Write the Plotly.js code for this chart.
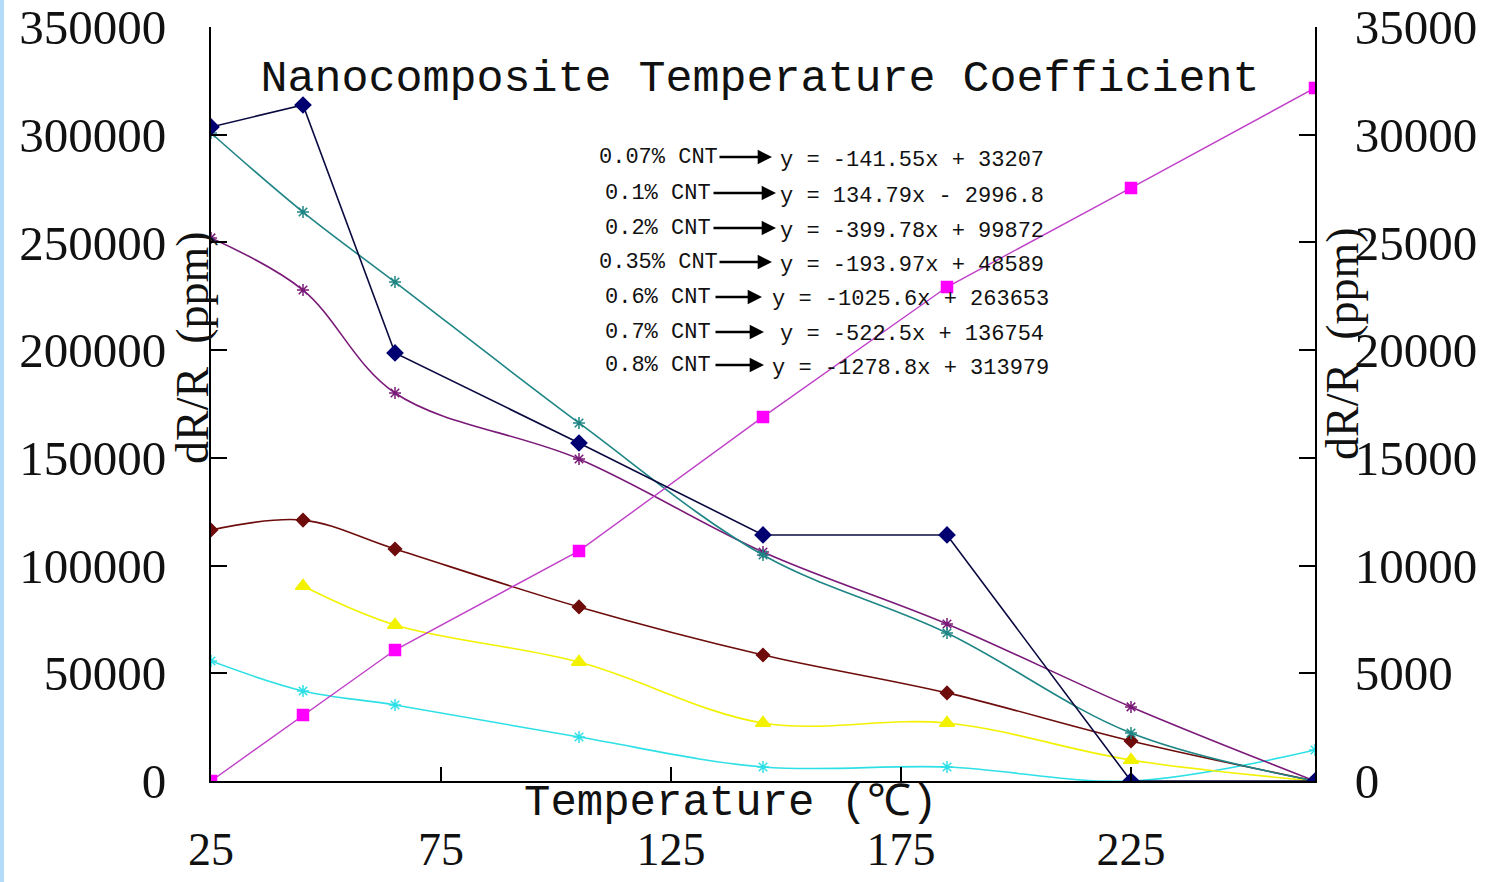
<!DOCTYPE html>
<html>
<head>
<meta charset="utf-8">
<script src="https://cdn.plot.ly/plotly-3.0.1.min.js"></script>
<style>
  html, body { margin: 0; padding: 0; background: #ffffff; }
  #chart { width: 1493px; height: 882px; }
</style>
</head>
<body>
<div id="chart"></div>
<script>
// ---------- data ----------
const temperature = [25, 45, 65, 105, 145, 185, 225, 265];
const tickTemps = [25, 75, 125, 175, 225];

// left axis series (ppm)
const tealStar   = [300800, 264100, 231600, 166200, 104900, 68700, 22300, 0];
const purpleStar = [252100, 227900, 180100, 149500, 106300, 72900, 34400, 0];
const maroonDiam = [116500, 121100, 107700, 80800, 58500, 40900, 18600, 0];
const yellowTri  = [null, 90500, 72400, 55200, 26900, 26900, 9700, 0];
const cyanStar   = [55700, 41800, 35300, 20400, 6500, 6500, 0, 14400];

// right axis series (ppm)
const navyDiam   = [30360, 31380, 19870, 15690, 11420, 11420, 0, 0];
const magentaSq  = [0, 3060, 6080, 10680, 16900, 22930, 27530, 32170];

// fit labels and equations
const fitLabels = ["0.07% CNT", "0.1% CNT", "0.2% CNT", "0.35% CNT", "0.6% CNT", "0.7% CNT", "0.8% CNT"];
const fitEquations = [
  "y = -141.55x + 33207",
  "y = 134.79x - 2996.8",
  "y = -399.78x + 99872",
  "y = -193.97x + 48589",
  "y = -1025.6x + 263653",
  "y = -522.5x + 136754",
  "y = -1278.8x + 313979"
];

// ---------- layout helpers (pixel -> paper) ----------
const L = 211, T = 27, W = 1104, H = 754;
const px = x => (x - L) / W;
const py = y => (T + H - y) / H;

const serif = "Liberation Serif, Times New Roman, serif";
const mono = "Liberation Mono, DejaVu Sans Mono, monospace";

function tr(y, color, symbol, size, shape, axis, mcolor, width) {
  return {
    x: temperature, y: y, type: "scatter", mode: "lines+markers",
    yaxis: axis || "y",
    line: { color: color, width: width || 1.6, shape: shape, smoothing: 1 },
    marker: { symbol: symbol, size: size, color: mcolor || color,
              line: { color: mcolor || color, width: 1.5 } },
    connectgaps: false, showlegend: false, hoverinfo: "x+y"
  };
}

const traces = [
  tr(cyanStar, "#2ee0e6", "asterisk-open", 10, "spline"),
  tr(yellowTri, "#f2f200", "triangle-up", 13, "spline"),
  tr(maroonDiam, "#6e0c0c", "diamond", 10, "spline"),
  tr(purpleStar, "#7a1a78", "asterisk-open", 10, "spline"),
  tr(tealStar, "#1f8585", "asterisk-open", 10, "spline"),
  tr(magentaSq, "#c040c8", "square", 11, "linear", "y2", "#ff00ff", 1.4),
  tr(navyDiam, "#0a0a40", "diamond", 12, "linear", "y2", "#000070", 1.6)
];

// equation block rows (pixel positions)
const rowY      = [157, 193, 228, 262, 297, 332, 365];
const labelCx   = [658, 658, 658, 658, 658, 658, 658];
const arrowTail = [718, 712, 712, 718, 714, 714, 714];
const arrowHead = [772, 776, 776, 772, 762, 764, 764];
const eqLeft    = [778, 778, 778, 778, 770, 778, 770];

const annotations = [];
for (let i = 0; i < fitLabels.length; i++) {
  annotations.push({
    xref: "paper", yref: "paper", x: px(labelCx[i]), y: py(rowY[i]),
    xanchor: "center", yanchor: "middle", showarrow: false,
    text: fitLabels[i], font: { family: mono, size: 22, color: "#111" }
  });
  annotations.push({
    xref: "paper", yref: "paper", x: px(eqLeft[i]), y: py(rowY[i] + 3),
    xanchor: "left", yanchor: "middle", showarrow: false,
    text: fitEquations[i], font: { family: mono, size: 22, color: "#111" }
  });
  annotations.push({
    xref: "paper", yref: "paper", x: px(arrowHead[i]), y: py(rowY[i]),
    text: "", showarrow: true, arrowhead: 2, arrowsize: 1.1, arrowwidth: 2.6,
    arrowcolor: "#000", ax: arrowTail[i] - arrowHead[i], ay: 0, standoff: 0
  });
}
// axis titles
annotations.push({
  xref: "paper", yref: "paper", x: px(731), y: py(803), xanchor: "center", yanchor: "middle",
  showarrow: false, text: "Temperature (℃)", font: { family: mono, size: 44, color: "#111" }
});
annotations.push({
  xref: "paper", yref: "paper", x: px(192), y: py(348), xanchor: "center", yanchor: "middle",
  showarrow: false, textangle: -90, text: "dR/R\u00a0\u00a0(ppm)", font: { family: serif, size: 46, color: "#111" }
});
annotations.push({
  xref: "paper", yref: "paper", x: px(1342), y: py(344), xanchor: "center", yanchor: "middle",
  showarrow: false, textangle: -90, text: "dR/R\u00a0\u00a0(ppm)", font: { family: serif, size: 46, color: "#111" }
});

const axisCommon = {
  showgrid: false, zeroline: false, showline: true, linecolor: "#000", linewidth: 2,
  ticks: "inside", tickcolor: "#000", tickwidth: 2,
  tickfont: { family: serif, size: 49, color: "#111" }
};

const layout = {
  width: 1493, height: 882,
  margin: { l: L, r: 1493 - L - W, t: T, b: 882 - T - H },
  paper_bgcolor: "#ffffff", plot_bgcolor: "#ffffff",
  showlegend: false,
  title: {
    text: "Nanocomposite Temperature Coefficient",
    font: { family: mono, size: 45, color: "#111" },
    xref: "paper", yref: "paper", x: px(760), y: py(75), xanchor: "center", yanchor: "middle"
  },
  xaxis: Object.assign({}, axisCommon, {
    range: [25, 265], tickvals: tickTemps, ticklen: 14, ticklabelstandoff: 27,
    tickfont: { family: serif, size: 46, color: "#111" }
  }),
  yaxis: Object.assign({}, axisCommon, {
    range: [0, 350000], dtick: 50000, tick0: 0, tickformat: "d", ticklen: 16, ticklabelstandoff: 33
  }),
  yaxis2: Object.assign({}, axisCommon, {
    range: [0, 35000], dtick: 5000, tick0: 0, tickformat: "d", ticklen: 16, ticklabelstandoff: 28,
    overlaying: "y", side: "right"
  }),
  annotations: annotations,
  shapes: [{
    type: "rect", xref: "paper", yref: "paper", x0: px(0), x1: px(4), y0: py(882), y1: py(0),
    fillcolor: "#b4dcf8", line: { width: 0 }, layer: "below"
  }]
};

Plotly.newPlot("chart", traces, layout, { displayModeBar: false, staticPlot: true });
</script>
</body>
</html>
